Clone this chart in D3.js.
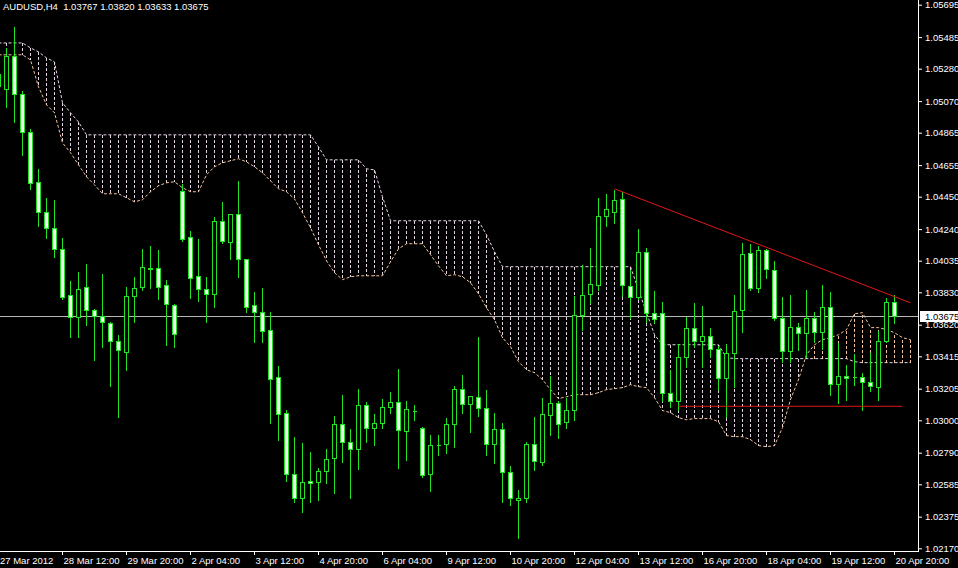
<!DOCTYPE html>
<html><head><meta charset="utf-8">
<script src="https://cdn.jsdelivr.net/npm/d3@7"></script>
<style>
html,body{margin:0;padding:0;background:#000;overflow:hidden}
svg{display:block}
text{font-family:"Liberation Sans",Arial,sans-serif;font-size:9.5px;fill:#fff}
</style></head><body>
<svg id="chart" width="958" height="568"></svg>
<script>
// ---------------- data ----------------
const titleText = "AUDUSD,H4  1.03767 1.03820 1.03633 1.03675";
const lastPrice = 1.03675;

const open = [
1.05169,1.05149,1.05363,1.05117,1.04871,1.04547,1.04352,1.04249,1.04112,1.03814,
1.03672,1.03866,1.03717,1.03678,1.03633,1.03516,1.03445,1.03808,1.03866,1.03989,
1.03989,1.03879,1.03750,1.04488,1.04190,1.03937,1.03853,1.03821,1.04294,1.04158,
1.04339,1.04048,1.03750,1.03704,1.03588,1.03283,1.03050,1.02655,1.02499,1.02609,
1.02603,1.02674,1.02758,1.02978,1.02862,1.02816,1.03102,1.02953,1.02985,1.03089,
1.03121,1.02933,1.03063,1.02953,1.02655,1.02842,1.02849,1.02978,1.03205,1.03108,
1.03153,1.03082,1.02849,1.02946,1.02667,1.02486,1.02499,1.02849,1.02732,1.03037,
1.03115,1.02991,1.03069,1.03685,1.03821,1.03879,1.04326,1.04352,1.04436,1.03873,
1.03801,1.04093,1.03698,1.03698,1.03179,1.03127,1.03413,1.03601,1.03516,1.03549,
1.03464,1.03277,1.03439,1.03717,1.04087,1.03860,1.04106,1.03976,1.03665,1.03452,
1.03607,1.03568,1.03665,1.03575,1.03737,1.03238,1.03290,1.03283,1.03280,1.03251,
1.03218,1.03516,1.03767];
const high = [
1.05298,1.05421,1.05557,1.05143,1.04897,1.04637,1.04449,1.04436,1.04190,1.03912,
1.03970,1.04022,1.03730,1.03957,1.03646,1.03562,1.03873,1.03937,1.04119,1.04138,
1.04112,1.03918,1.03763,1.04540,1.04236,1.04184,1.03937,1.04326,1.04424,1.04346,
1.04560,1.04054,1.03840,1.03866,1.03711,1.03361,1.03076,1.02901,1.02862,1.02804,
1.02700,1.02823,1.03037,1.03173,1.02953,1.03212,1.03127,1.03050,1.03147,1.03192,
1.03341,1.03134,1.03108,1.02965,1.02914,1.02914,1.03024,1.03231,1.03303,1.03166,
1.03549,1.03205,1.03056,1.02991,1.02713,1.02557,1.02868,1.03030,1.03153,1.03296,
1.03134,1.03153,1.03814,1.04015,1.04125,1.04449,1.04475,1.04501,1.04488,1.03983,
1.04249,1.04125,1.03847,1.03776,1.03335,1.03503,1.03678,1.03769,1.03750,1.03607,
1.03490,1.03503,1.03821,1.04158,1.04151,1.04138,1.04119,1.04041,1.03808,1.03821,
1.03639,1.03853,1.03711,1.03886,1.03840,1.03510,1.03367,1.03439,1.03315,1.03445,
1.03588,1.03801,1.03820];
const low = [
1.05104,1.05033,1.04935,1.04722,1.04501,1.04261,1.04184,1.04061,1.03788,1.03542,
1.03542,1.03620,1.03393,1.03477,1.03225,1.03024,1.03328,1.03639,1.03847,1.03860,
1.03788,1.03490,1.03477,1.04164,1.03795,1.03776,1.03639,1.03737,1.04151,1.04048,
1.03931,1.03704,1.03510,1.03510,1.02985,1.02875,1.02609,1.02467,1.02408,1.02467,
1.02486,1.02596,1.02531,1.02732,1.02499,1.02687,1.02862,1.02842,1.02953,1.03050,
1.02693,1.02745,1.03004,1.02635,1.02544,1.02778,1.02791,1.02829,1.03050,1.02927,
1.03030,1.02778,1.02726,1.02473,1.02454,1.02240,1.02467,1.02680,1.02713,1.02907,
1.02888,1.02953,1.03004,1.03588,1.03763,1.03847,1.04261,1.04281,1.03808,1.03665,
1.03788,1.03639,1.03633,1.03127,1.03089,1.03069,1.03348,1.03477,1.03348,1.03413,
1.03199,1.03024,1.03218,1.03575,1.03847,1.03834,1.03925,1.03652,1.03380,1.03380,
1.03458,1.03413,1.03510,1.03464,1.03166,1.03115,1.03134,1.03231,1.03069,1.03192,
1.03134,1.03510,1.03633];
const close = [
1.05246,1.05363,1.05117,1.04871,1.04540,1.04352,1.04249,1.04112,1.03801,1.03672,
1.03853,1.03717,1.03678,1.03639,1.03516,1.03458,1.03808,1.03860,1.03996,1.03983,
1.03866,1.03756,1.03562,1.04177,1.03925,1.03853,1.03821,1.04294,1.04164,1.04339,
1.04048,1.03737,1.03704,1.03581,1.03270,1.03043,1.02655,1.02499,1.02603,1.02596,
1.02674,1.02752,1.02978,1.02862,1.02816,1.03102,1.02953,1.02985,1.03089,1.03121,
1.02940,1.03076,1.03063,1.02648,1.02842,1.02842,1.02978,1.03205,1.03108,1.03160,
1.03082,1.02849,1.02946,1.02667,1.02493,1.02499,1.02849,1.02739,1.03043,1.03115,
1.02978,1.03069,1.03685,1.03814,1.03886,1.04326,1.04372,1.04430,1.03879,1.03801,
1.04093,1.03698,1.03659,1.03179,1.03127,1.03413,1.03601,1.03516,1.03549,1.03464,
1.03277,1.03439,1.03711,1.04080,1.03860,1.04106,1.03983,1.03665,1.03452,1.03607,
1.03568,1.03665,1.03575,1.03737,1.03238,1.03290,1.03277,1.03283,1.03251,1.03222,
1.03516,1.03769,1.03675];

// Ichimoku cloud (shifted spans), one value per bar position incl. 2 bars ahead
const senkouA = [
1.05370,1.05370,1.05370,1.05370,1.05337,1.05162,1.05046,1.04994,1.04799,1.04735,
1.04657,1.04579,1.04527,1.04469,1.04469,1.04469,1.04443,1.04417,1.04430,1.04482,
1.04521,1.04540,1.04547,1.04508,1.04482,1.04482,1.04592,1.04644,1.04670,1.04683,
1.04696,1.04676,1.04644,1.04605,1.04553,1.04501,1.04482,1.04436,1.04346,1.04249,
1.04138,1.04035,1.03957,1.03912,1.03931,1.03937,1.03937,1.03937,1.03937,1.04028,
1.04112,1.04145,1.04145,1.04145,1.04074,1.04002,1.03937,1.03944,1.03931,1.03892,
1.03821,1.03730,1.03652,1.03536,1.03477,1.03380,1.03328,1.03309,1.03264,1.03199,
1.03140,1.03153,1.03166,1.03166,1.03166,1.03179,1.03199,1.03205,1.03212,1.03231,
1.03218,1.03212,1.03147,1.03063,1.03050,1.03017,1.03004,1.03011,1.03011,1.03011,
1.02991,1.02901,1.02894,1.02894,1.02875,1.02836,1.02829,1.02836,1.02953,1.03134,
1.03264,1.03426,1.03490,1.03523,1.03536,1.03555,1.03588,1.03691,1.03698,1.03601,
1.03601,1.03588,1.03568,1.03536,1.03523];
const senkouB = [
1.05447,1.05447,1.05447,1.05447,1.05415,1.05389,1.05350,1.05324,1.05059,1.04994,
1.04935,1.04851,1.04851,1.04851,1.04851,1.04851,1.04851,1.04851,1.04851,1.04851,
1.04851,1.04851,1.04851,1.04851,1.04851,1.04851,1.04851,1.04851,1.04851,1.04851,
1.04851,1.04851,1.04851,1.04851,1.04851,1.04851,1.04851,1.04851,1.04851,1.04851,
1.04773,1.04689,1.04689,1.04689,1.04689,1.04689,1.04631,1.04624,1.04449,1.04294,
1.04294,1.04294,1.04294,1.04294,1.04294,1.04294,1.04294,1.04294,1.04294,1.04294,
1.04294,1.04203,1.04093,1.03996,1.03996,1.03996,1.03996,1.03996,1.03996,1.03996,
1.03996,1.03996,1.03996,1.03996,1.03996,1.03996,1.03996,1.03996,1.03996,1.03996,
1.03847,1.03698,1.03555,1.03490,1.03490,1.03490,1.03490,1.03490,1.03490,1.03490,
1.03490,1.03406,1.03400,1.03400,1.03400,1.03400,1.03400,1.03400,1.03400,1.03400,
1.03400,1.03400,1.03400,1.03400,1.03400,1.03400,1.03400,1.03380,1.03374,1.03374,
1.03374,1.03374,1.03374,1.03374,1.03374];

const priceTicks = [1.05695,1.05485,1.05280,1.05070,1.04865,1.04655,1.04450,1.04240,1.04035,
1.03830,1.03620,1.03415,1.03205,1.03000,1.02790,1.02585,1.02375,1.02170];
const timeTickBars = [0,8,16,24,32,40,48,56,64,72,80,88,96,104,112];
const timeTickLabels = ["27 Mar 2012","28 Mar 12:00","29 Mar 20:00","2 Apr 04:00","3 Apr 12:00",
"4 Apr 20:00","6 Apr 04:00","9 Apr 12:00","10 Apr 20:00","12 Apr 04:00","13 Apr 12:00",
"16 Apr 20:00","18 Apr 04:00","19 Apr 12:00","20 Apr 20:00"];

// drawn objects (bar index, price)
const resistanceLine = [[77, 1.04501], [114, 1.03762]];
const supportLine = [[85, 1.03091], [113, 1.03091]];

// ---------------- drawing ----------------
const COL = {
  candle: "#22e422", bearFill: "#effff0", bullFill: "#000",
  spanA: "#f3c29a", spanB: "#e4d4e4", bid: "#b8b8b8", red: "#e01818", axis: "#fff"
};
const plotRight = 918, plotBottom = 551;

const svg = d3.select("#chart");
svg.append("rect").attr("width", 958).attr("height", 568).attr("fill", "#000");

const x = d3.scaleLinear().domain([0, 112]).range([-2, 894]);
const y = d3.scaleLinear().domain([1.02170, 1.05695]).range([548.3, 4.7]);
const px = i => x(i) + 0.5;
const py = v => Math.round(y(v)) + 0.5;

svg.append("clipPath").attr("id", "plot").append("rect")
  .attr("x", 0).attr("y", 0).attr("width", plotRight).attr("height", plotBottom);
const plot = svg.append("g").attr("clip-path", "url(#plot)");

// cloud hatch
const cloudIdx = d3.range(senkouA.length);
plot.append("g").selectAll("line").data(cloudIdx).join("line")
  .attr("x1", px).attr("x2", px)
  .attr("y1", i => y(senkouB[i])).attr("y2", i => y(senkouA[i]))
  .attr("stroke", i => senkouA[i] > senkouB[i] ? COL.spanA : COL.spanB)
  .attr("stroke-width", 1).attr("stroke-dasharray", "3,2")
  .attr("shape-rendering", "crispEdges");

// span outlines
const spanLine = arr => d3.line().x((d, i) => px(i)).y(d => y(d))(arr);
plot.append("path").attr("d", spanLine(senkouB)).attr("fill", "none")
  .attr("stroke", COL.spanB).attr("stroke-width", 1).attr("stroke-dasharray", "3,2");
plot.append("path").attr("d", spanLine(senkouA)).attr("fill", "none")
  .attr("stroke", COL.spanA).attr("stroke-width", 1).attr("stroke-dasharray", "3,2");

// bid line
plot.append("line").attr("x1", 0).attr("x2", plotRight)
  .attr("y1", py(lastPrice)).attr("y2", py(lastPrice))
  .attr("stroke", COL.bid).attr("stroke-width", 1);

// candles
const bars = d3.range(open.length);
const cg = plot.append("g").attr("shape-rendering", "crispEdges");
cg.selectAll("line.wick").data(bars).join("line").attr("class", "wick")
  .attr("x1", px).attr("x2", px)
  .attr("y1", i => py(high[i])).attr("y2", i => py(low[i]))
  .attr("stroke", COL.candle).attr("stroke-width", 1);
cg.selectAll("g.body").data(bars).join(g => g.append("g").attr("class", "body"))
  .each(function (i) {
    const top = py(Math.max(open[i], close[i]));
    const bot = py(Math.min(open[i], close[i]));
    const sel = d3.select(this);
    if (bot - top < 1) {
      sel.append("line").attr("x1", px(i) - 2).attr("x2", px(i) + 2)
        .attr("y1", top).attr("y2", top).attr("stroke", COL.candle);
    } else {
      sel.append("rect").attr("x", px(i) - 2).attr("width", 4)
        .attr("y", top).attr("height", bot - top)
        .attr("fill", close[i] < open[i] ? COL.bearFill : COL.bullFill)
        .attr("stroke", COL.candle).attr("stroke-width", 1);
    }
  });

// trend lines
[resistanceLine, supportLine].forEach(seg => {
  plot.append("line")
    .attr("x1", px(seg[0][0])).attr("y1", y(seg[0][1]))
    .attr("x2", px(seg[1][0])).attr("y2", y(seg[1][1]))
    .attr("stroke", COL.red).attr("stroke-width", 1);
});

// axes
const yAxis = d3.axisRight(y).tickValues(priceTicks).tickSize(4).tickPadding(3)
  .tickFormat(d3.format(".5f"));
const ya = svg.append("g").attr("transform", `translate(${plotRight},0)`).call(yAxis);
ya.attr("font-family", null).attr("font-size", null);
ya.select(".domain").remove();
ya.selectAll(".tick line").attr("stroke", COL.axis);
ya.selectAll(".tick text").attr("fill", "#fff");

const xAxis = d3.axisBottom(x).tickValues(timeTickBars).tickSize(4)
  .tickFormat((d, i) => timeTickLabels[i]);
const xa = svg.append("g").attr("transform", `translate(0,${plotBottom})`).call(xAxis);
xa.attr("font-family", null).attr("font-size", null);
xa.select(".domain").remove();
xa.selectAll(".tick line").attr("stroke", COL.axis);
xa.selectAll(".tick text").attr("text-anchor", "start").attr("dy", 0)
  .attr("y", 13).attr("x", (d, i) => i === 0 ? 1.5 : 1).attr("fill", "#fff");

// axis frame lines
svg.append("line").attr("x1", plotRight + 0.5).attr("x2", plotRight + 0.5)
  .attr("y1", 0).attr("y2", plotBottom + 1).attr("stroke", COL.axis);
svg.append("line").attr("x1", 0).attr("x2", plotRight + 1)
  .attr("y1", plotBottom + 0.5).attr("y2", plotBottom + 0.5).attr("stroke", COL.axis);

// current price label
const lp = py(lastPrice);
svg.append("rect").attr("x", plotRight + 2).attr("y", lp - 5.5).attr("width", 40).attr("height", 11)
  .attr("fill", "#fff");
svg.append("text").attr("x", plotRight + 7).attr("y", lp).attr("dy", "0.32em")
  .style("fill", "#000").text(d3.format(".5f")(lastPrice));

// title
svg.append("text").attr("x", 3).attr("y", 10).attr("xml:space", "preserve")
  .style("white-space", "pre").text(titleText);
</script>
</body></html>
